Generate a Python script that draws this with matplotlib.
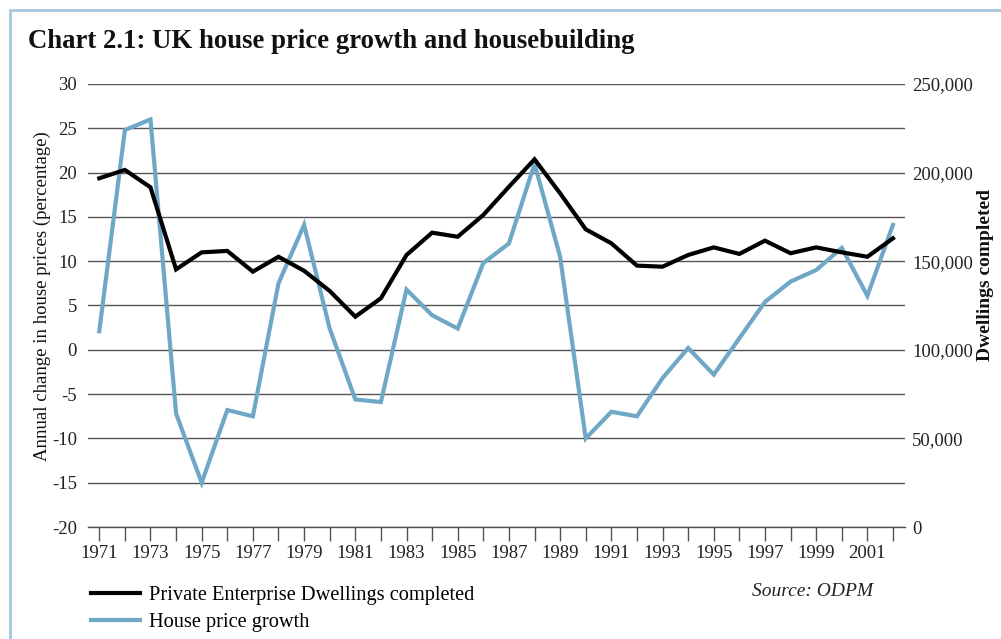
import numpy as np
import matplotlib
matplotlib.use("Agg")
import matplotlib.pyplot as plt
from matplotlib.patches import Rectangle
from matplotlib.ticker import FuncFormatter

plt.rcParams['font.family'] = ['Liberation Serif', 'DejaVu Serif']

years = list(range(1971, 2003))

# house price growth, percent (left axis)
price_growth = [2.1, 24.8, 26.0, -7.2, -15.0, -6.8, -7.5, 7.5, 14.1, 2.4,
                -5.6, -5.9, 6.8, 3.9, 2.4, 9.8, 12.0, 21.0, 10.5, -10.0,
                -7.0, -7.5, -3.2, 0.2, -2.8, 1.3, 5.4, 7.7, 9.0, 11.5,
                6.1, 14.1]

# private enterprise dwellings completed (right axis)
dwellings = [196800, 201500, 191700, 145400, 155000, 155800, 144100, 152500,
             144600, 133200, 118700, 129100, 153500, 166100, 163800, 176100,
             192000, 207500, 188300, 168000, 160100, 147500, 146900, 153500,
             157800, 154100, 161600, 154500, 157800, 155000, 152500, 162900]

left_ticks = list(range(-20, 31, 5))
right_ticks = list(range(0, 250001, 50000))
year_labels = [str(y) if (y - 1971) % 2 == 0 else '' for y in years]

W, H = 1001, 639
fig = plt.figure(figsize=(W / 100, H / 100), dpi=100)

# light blue frame (only top and left edges visible)
fig.patches.append(Rectangle((10 / W, -0.1), 1.2, 1 - 10 / H + 0.1,
                             transform=fig.transFigure, fill=False,
                             edgecolor='#a9c8df', linewidth=2))

ax = fig.add_axes([88 / W, 112 / H, 817 / W, 443 / H])
ax.set_xlim(1971 - 0.44, 2002 + 0.47)
ax.set_ylim(-20, 30)
ax.set_yticks(left_ticks)
ax.set_yticklabels([str(v) for v in left_ticks])
ax.yaxis.grid(True, color='#555555', linewidth=1.0)
ax.set_axisbelow(True)
for s in ['top', 'right', 'left']:
    ax.spines[s].set_visible(False)
ax.spines['bottom'].set_color('#555555')
ax.spines['bottom'].set_linewidth(1.0)
ax.tick_params(axis='y', length=0, pad=8, labelsize=13.5, labelcolor='#222222')
ax.set_xticks(years)
ax.set_xticklabels(year_labels)
ax.tick_params(axis='x', direction='out', length=10, width=1.0, color='#555555',
               pad=3, labelsize=13.5, labelcolor='#222222')

l_price, = ax.plot(years, price_growth, color='#6fa7c6', linewidth=3.0,
                   solid_joinstyle='miter', label='House price growth')

ax2 = ax.twinx()
ax2.set_xlim(ax.get_xlim())
ax2.set_ylim(0, 250000)
ax2.set_yticks(right_ticks)
ax2.yaxis.set_major_formatter(FuncFormatter(lambda v, p: f"{int(v):,}"))
for s in ['top', 'right', 'left', 'bottom']:
    ax2.spines[s].set_visible(False)
ax2.tick_params(axis='y', length=0, pad=5, labelsize=13.5, labelcolor='#222222')
l_dw, = ax2.plot(years, dwellings, color='black', linewidth=3.0,
                 solid_joinstyle='miter',
                 label='Private Enterprise Dwellings completed')

fig.text(28 / W, 1 - 42 / H, 'Chart 2.1: UK house price growth and housebuilding',
         fontsize=19.3, fontweight='bold', va='center', ha='left', color='#111111')
fig.text(42 / W, 1 - 296 / H, 'Annual change in house prices (percentage)',
         rotation=90, fontsize=13.5, va='center', ha='center', color='#111111')
fig.text(985 / W, 1 - 275 / H, 'Dwellings completed', rotation=90,
         fontsize=14, fontweight='bold', va='center', ha='center', color='#111111')
fig.text(752 / W, 1 - 592 / H, 'Source: ODPM', fontsize=14, style='italic',
         va='center', ha='left', color='#222222')

fig.legend(handles=[l_dw, l_price], loc='center left',
           bbox_to_anchor=(91 / W, 1 - 609 / H), frameon=False, fontsize=14.7,
           handlelength=2.4, handletextpad=0.45, borderpad=0, borderaxespad=0,
           labelspacing=0.4)

fig.savefig('out.png', dpi=100)
